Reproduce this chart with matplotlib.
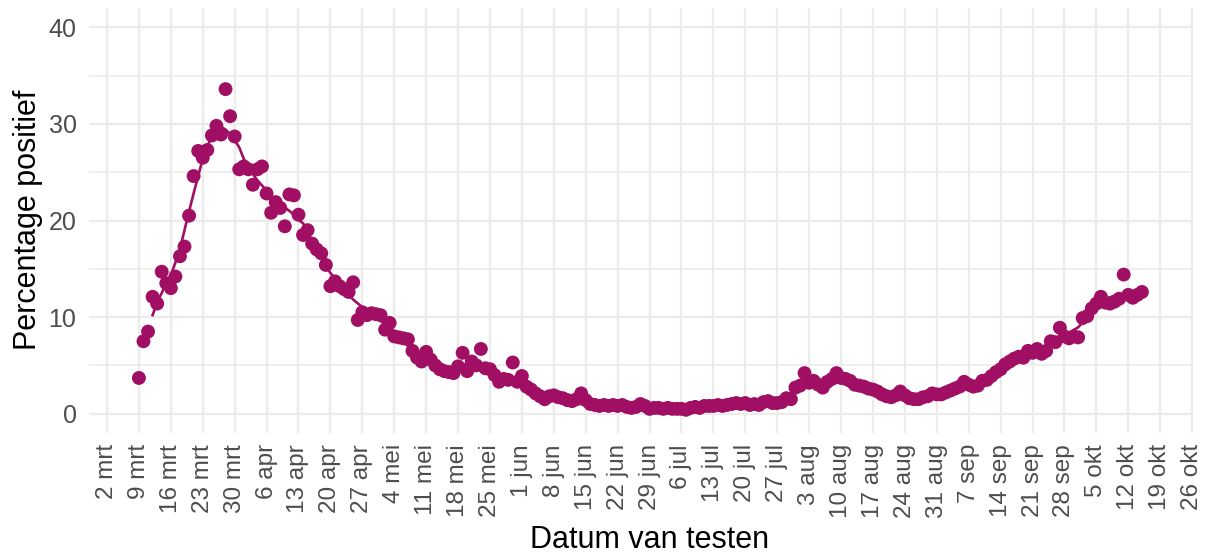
import matplotlib
matplotlib.use("Agg")
import matplotlib.pyplot as plt
import matplotlib.dates as mdates
from matplotlib.ticker import MultipleLocator
import pandas as pd

# ---- data: daily percentage positive, 9 mrt 2020 .. 15 okt 2020 ----
start_date = "2020-03-09"
pct_mrt = [3.7, 7.5, 8.5, 12.1, 11.4, 14.7, 13.5,
           13.0, 14.2, 16.3, 17.3, 20.5, 24.6, 27.2,
           26.5, 27.3, 28.8, 29.8, 28.9, 33.6, 30.8,
           28.7, 25.3]
pct_apr = [25.6, 25.3, 23.7, 25.3, 25.6,
           22.8, 20.8, 21.9, 21.3, 19.4, 22.7, 22.6,
           20.6, 18.5, 19.0, 17.6, 17.0, 16.6, 15.4,
           13.2, 13.7, 13.2, 12.9, 12.6, 13.6, 9.7,
           10.5, 10.2, 10.4, 10.3]
pct_mei = [10.2, 8.7, 9.4,
           8.0, 7.9, 7.8, 7.7, 6.5, 5.8, 5.4,
           6.4, 5.6, 5.0, 4.6, 4.4, 4.3, 4.2,
           4.9, 6.3, 4.4, 5.4, 5.0, 6.7, 4.7,
           4.6, 4.0, 3.3, 3.6, 3.5, 5.3, 3.3]
pct_jun = [3.9, 2.8, 2.5, 2.1, 1.8, 1.5, 1.8,
           1.9, 1.7, 1.6, 1.4, 1.3, 1.5, 2.1,
           1.4, 1.0, 0.9, 0.8, 0.9, 0.8, 0.9,
           0.8, 0.9, 0.7, 0.6, 0.7, 1.0, 0.8,
           0.5, 0.6]
pct_jul = [0.6, 0.5, 0.6, 0.5, 0.5,
           0.5, 0.4, 0.6, 0.7, 0.6, 0.8, 0.8,
           0.8, 0.9, 0.8, 0.9, 1.0, 1.1, 1.0,
           1.1, 0.9, 1.0, 0.9, 1.2, 1.3, 1.1,
           1.1, 1.2, 1.6, 1.5, 2.7]
pct_aug = [2.9, 4.2,
           3.2, 3.4, 3.0, 2.7, 3.3, 3.6, 4.2,
           3.7, 3.6, 3.4, 3.0, 2.9, 2.8, 2.6,
           2.5, 2.3, 2.0, 1.8, 1.7, 1.9, 2.3,
           1.9, 1.6, 1.5, 1.5, 1.7, 1.8, 2.1,
           2.0]
pct_sep = [2.0, 2.2, 2.4, 2.6, 2.8, 3.3,
           3.0, 2.8, 2.9, 3.4, 3.5, 3.9, 4.3,
           4.6, 5.1, 5.4, 5.7, 5.9, 5.8, 6.5,
           6.3, 6.7, 6.2, 6.5, 7.5, 7.4, 8.9,
           8.0, 7.8, 8.0]
pct_okt = [7.9, 9.9, 10.1, 10.9,
           11.4, 12.1, 11.5, 11.4, 11.6, 11.9, 14.4,
           12.3, 12.0, 12.3, 12.6]

month_nl = {3: "mrt", 4: "apr", 5: "mei", 6: "jun", 7: "jul",
            8: "aug", 9: "sep", 10: "okt"}
tick_start = "2020-03-02"
tick_end = "2020-10-26"
y_ticks = [0, 10, 20, 30, 40]

# ---- build ----
values = pct_mrt + pct_apr + pct_mei + pct_jun + pct_jul + pct_aug + pct_sep + pct_okt
dates = pd.date_range(start_date, periods=len(values), freq="D")
series = pd.Series(values, index=dates)
smooth = series.rolling(7, center=True).mean()

color = "#A00F63"

plt.rcParams["font.family"] = ["Liberation Sans", "DejaVu Sans"]
fig = plt.figure(figsize=(12.11, 5.55), dpi=100)
ax = fig.add_axes([89/1211, 1 - 433/555, (1193 - 89)/1211, (433 - 8)/555])

ticks = pd.date_range(tick_start, tick_end, freq="7D")
tick_labels = [f"{d.day} {month_nl[d.month]}" for d in ticks]

ax.set_xticks(mdates.date2num(ticks.to_pydatetime()))
ax.set_xticklabels(tick_labels, rotation=90, ha="center", va="top")
ax.set_yticks(y_ticks)
ax.yaxis.set_minor_locator(MultipleLocator(5))

left = mdates.date2num(pd.Timestamp(tick_start)) - 3.95
right = mdates.date2num(pd.Timestamp(tick_end)) + 0.2
ax.set_xlim(left, right)
ax.set_ylim(-2, 42)

ax.grid(True, which="major", axis="both", color="#EBEBEB", linewidth=1.6, zorder=0)
ax.grid(True, which="minor", axis="y", color="#EBEBEB", linewidth=1.1, zorder=0)
ax.set_axisbelow(True)
for s in ax.spines.values():
    s.set_visible(False)
ax.tick_params(which="both", length=0)
ax.tick_params(axis="y", labelsize=18, labelcolor="#4D4D4D", pad=9)
ax.tick_params(axis="x", labelsize=17.5, labelcolor="#4D4D4D", pad=8)

xnum = mdates.date2num(dates.to_pydatetime())
ax.plot(xnum, smooth.values, color=color, linewidth=1.9, zorder=2)
ax.scatter(xnum, series.values, s=100, color=color, edgecolors="none", zorder=3)

ax.set_xlabel("Datum van testen", fontsize=22, color="black")
ax.set_ylabel("Percentage positief", fontsize=22, color="black")
ax.xaxis.set_label_coords((650 - 89) / 1104, (433 - 540) / 425)
ax.xaxis.label.set_va("center")
ax.yaxis.set_label_coords((28 - 89) / 1104, (433 - 220) / 425)
ax.yaxis.label.set_va("center")

fig.savefig("out.png", dpi=100, facecolor="white")
